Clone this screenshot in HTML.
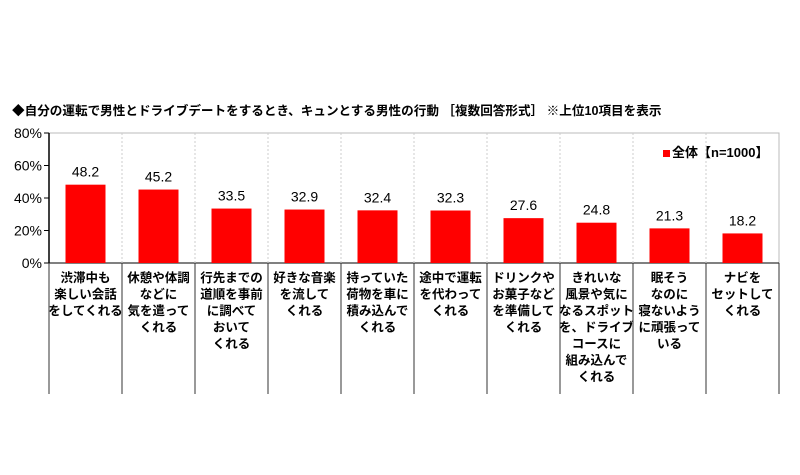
<!DOCTYPE html>
<html><head><meta charset="utf-8"><style>
body{margin:0;background:#fff;width:800px;height:470px;overflow:hidden;font-family:"Liberation Sans","Noto Sans CJK JP",sans-serif}
</style></head><body>
<svg width="800" height="470" xmlns="http://www.w3.org/2000/svg" id="svg">
<text x="12" y="115" font-size="12.6" font-weight="bold" fill="#000" font-family="Liberation Sans, Noto Sans CJK JP, sans-serif">◆自分の運転で男性とドライブデートをするとき、キュンとする男性の行動 ［複数回答形式］ ※上位10項目を表示</text>
<rect x="49" y="133" width="730" height="130" fill="none" stroke="#bbb" stroke-width="1"/>
<rect x="663" y="150" width="7" height="7" fill="#f00"/>
<text x="672" y="157" font-size="13" font-weight="bold" font-family="Liberation Sans, Noto Sans CJK JP, sans-serif">全体【n=1000】</text>
<g id="g"></g>
</svg>
<script>
const categories=[["渋滞中も","楽しい会話","をしてくれる"],["休憩や体調","などに","気を遣って","くれる"],["行先までの","道順を事前","に調べて","おいて","くれる"],["好きな音楽","を流して","くれる"],["持っていた","荷物を車に","積み込んで","くれる"],["途中で運転","を代わって","くれる"],["ドリンクや","お菓子など","を準備して","くれる"],["きれいな","風景や気に","なるスポット","を、ドライブ","コースに","組み込んで","くれる"],["眠そう","なのに","寝ないよう","に頑張って","いる"],["ナビを","セットして","くれる"]];
const values=[48.2,45.2,33.5,32.9,32.4,32.3,27.6,24.8,21.3,18.2];
const ticks=[0,20,40,60,80];
const X0=49,W=73,Y0=263,H=130,MAX=80,NS="http://www.w3.org/2000/svg",F="Liberation Sans, Noto Sans CJK JP, sans-serif";
const g=document.getElementById('g');
const y=v=>Y0-v/MAX*H, x=i=>X0+i*W;
function mk(t,a){const e=document.createElementNS(NS,t);for(const k in a)e.setAttribute(k,a[k]);g.appendChild(e);return e;}
ticks.forEach(t=>{
 const e=mk('text',{x:42,y:y(t)+5,'text-anchor':'end','font-size':14,'font-family':F});e.textContent=t+'%';
 
 
 const l=mk('line',{x1:44,x2:49,y1:y(t),y2:y(t),stroke:'#000'});
 
 
});
const ax=mk('line',{x1:49,x2:49,y1:133,y2:263,stroke:'#000','stroke-width':1.5});


const bx=mk('line',{x1:49,x2:779,y1:263,y2:263,stroke:'#000','stroke-width':1});


values.forEach((v,i)=>{
 if(i>0){const d=mk('line',{x1:x(i),x2:x(i),y1:133,y2:263,stroke:'#ccc','stroke-dasharray':'2,2'});
 
 }
 const s=mk('line',{x1:x(i),x2:x(i),y1:263,y2:394,stroke:'#333','stroke-width':1});
 
 
 const cx=x(i)+W/2;
 const r=mk('rect',{x:cx-20,y:y(v),width:40,height:Y0-y(v),fill:'#f00'});
 
 
 const t=mk('text',{x:cx,y:y(v)-8,'text-anchor':'middle','font-size':14,'font-family':F});t.textContent=v.toFixed(1);
 
 
 categories[i].forEach((ln,j)=>{
  const c=mk('text',{x:cx,y:282+j*16.5,'text-anchor':'middle','font-size':12.5,'font-weight':'bold','font-family':F});c.textContent=ln;
  
  
 });
});
const e=mk('line',{x1:779,x2:779,y1:263,y2:394,stroke:'#333'});


</script>
</body></html>
